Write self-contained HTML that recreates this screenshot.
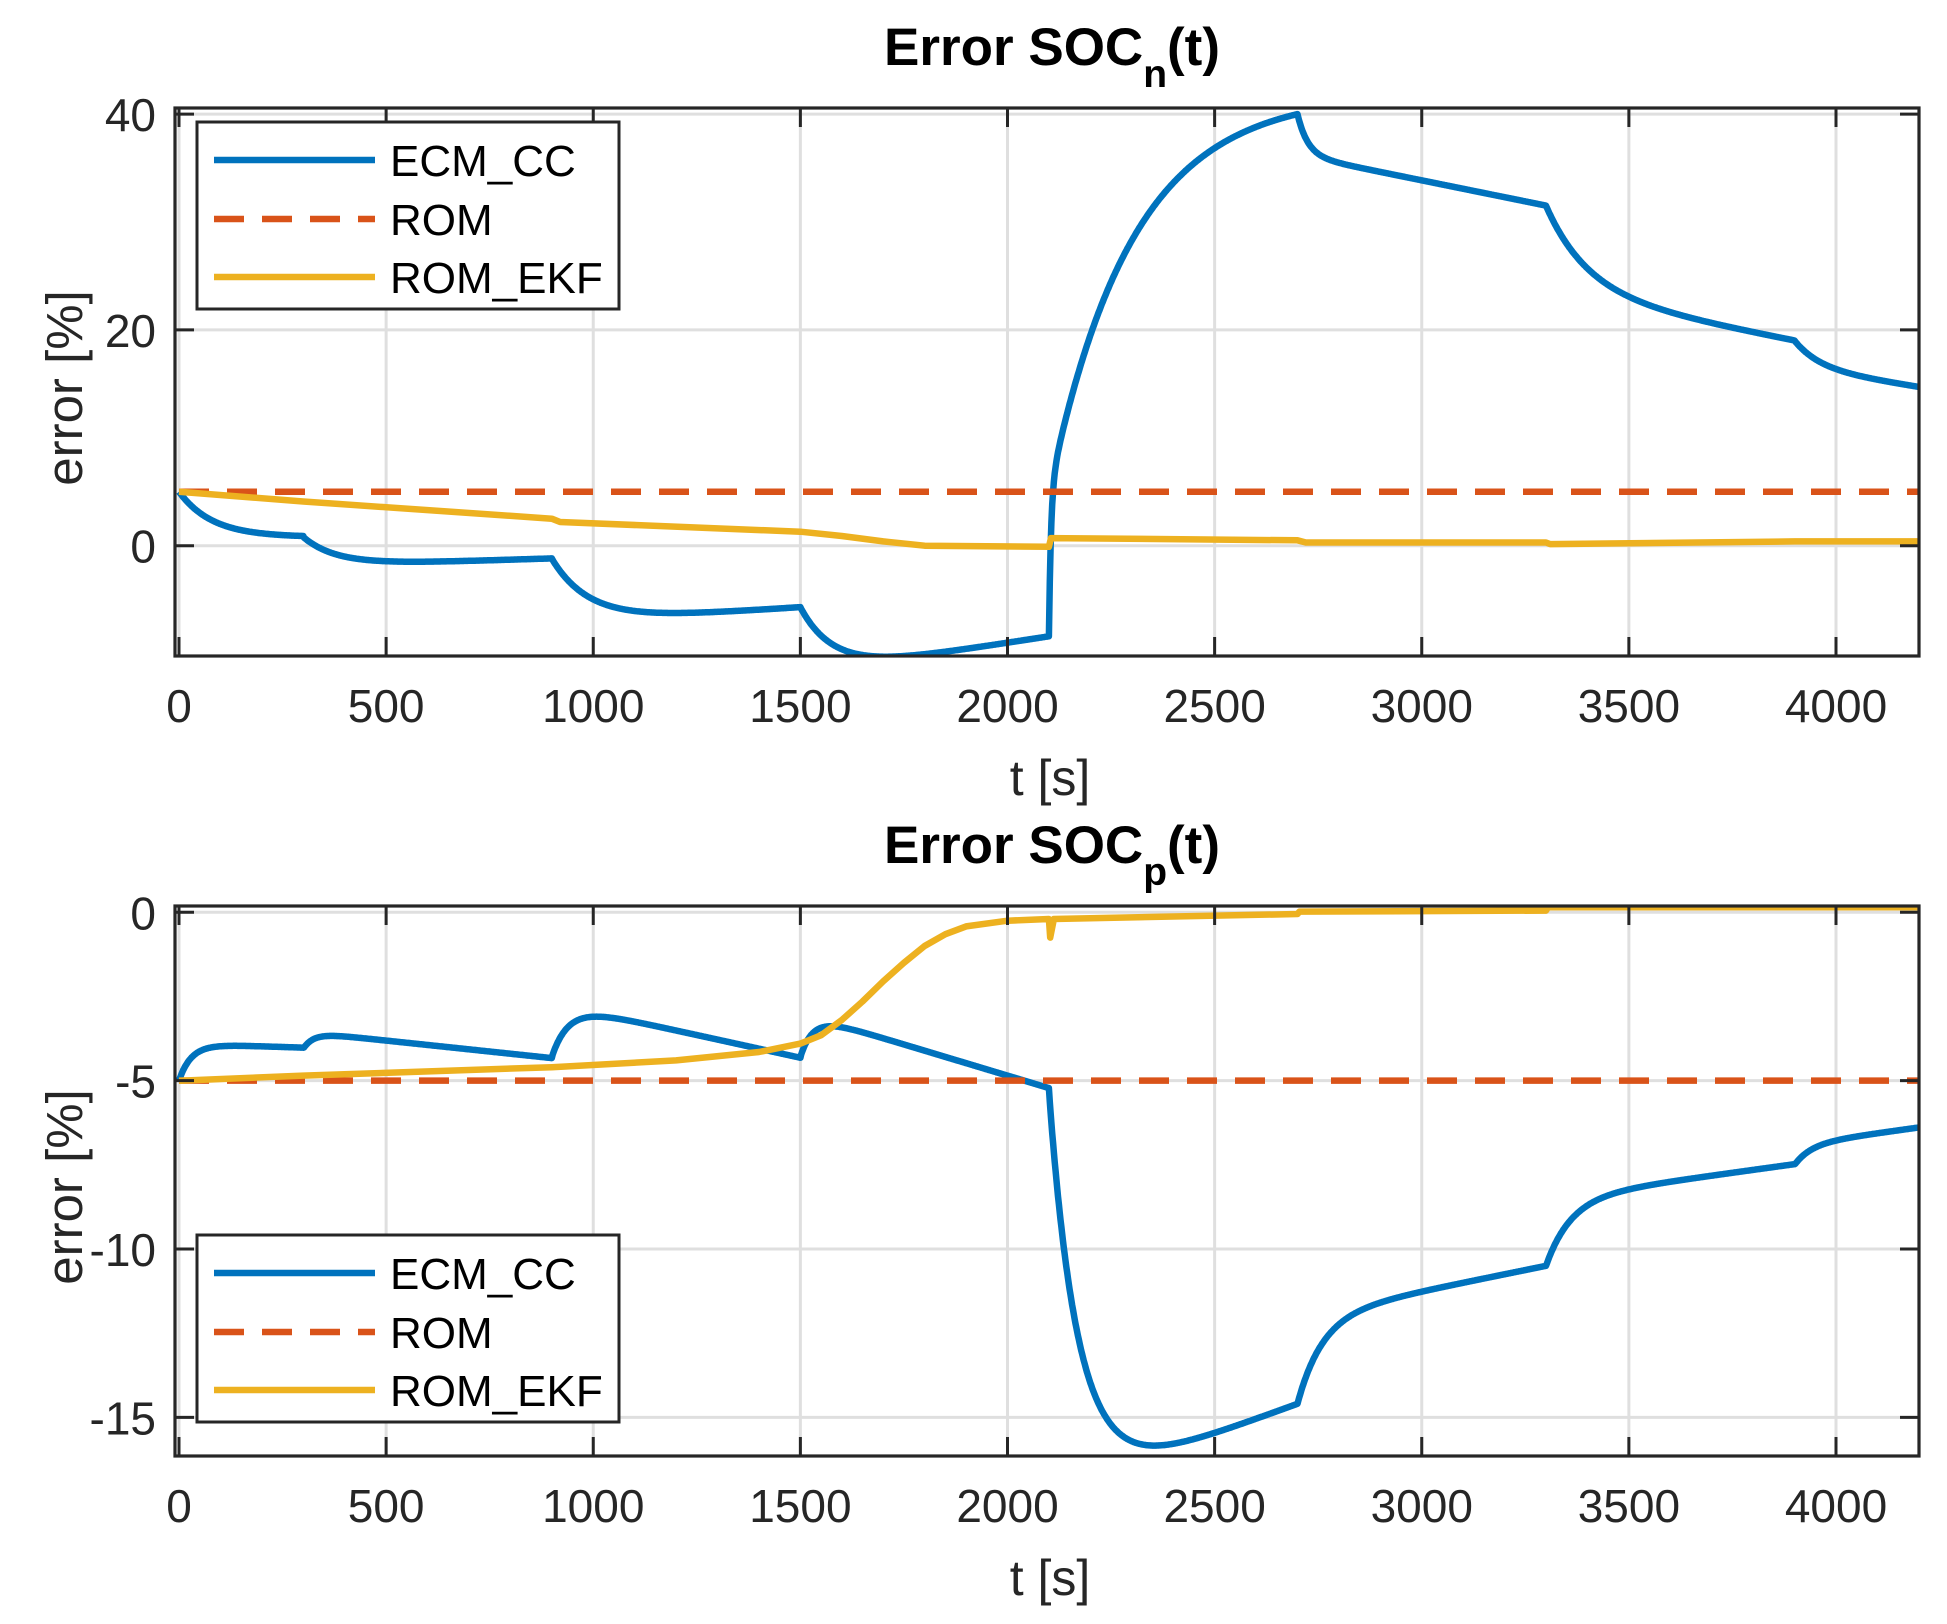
<!DOCTYPE html>
<html><head><meta charset="utf-8"><style>
html,body{margin:0;padding:0;background:#fff;}
svg{display:block;font-family:"Liberation Sans",Arial,sans-serif;}
</style></head><body>
<svg id="s" width="1947" height="1624" viewBox="0 0 1947 1624" xmlns="http://www.w3.org/2000/svg">
<rect width="1947" height="1624" fill="#fff"/>
<g id="g"></g>
<text x="1052" y="65" font-size="53" font-weight="bold" text-anchor="middle" fill="#000">Error SOC<tspan font-size="39" dy="22">n</tspan><tspan dy="-22">(t)</tspan></text>
<text x="1052" y="863" font-size="53" font-weight="bold" text-anchor="middle" fill="#000">Error SOC<tspan font-size="39" dy="22">p</tspan><tspan dy="-22">(t)</tspan></text>
<text x="1050" y="795" font-size="50" text-anchor="middle" fill="#262626">t [s]</text>
<text x="1050" y="1595" font-size="50" text-anchor="middle" fill="#262626">t [s]</text>
<text transform="translate(82,388) rotate(-90)" font-size="51" text-anchor="middle" fill="#262626">error [%]</text>
<text transform="translate(82,1187) rotate(-90)" font-size="51" text-anchor="middle" fill="#262626">error [%]</text>
</svg>
<script>
const NS="http://www.w3.org/2000/svg";
const g=document.getElementById('g');
function el(t,a,txt){const e=document.createElementNS(NS,t);for(const k in a)e.setAttribute(k,a[k]);if(txt!==undefined)e.textContent=txt;g.appendChild(e);return e;}
const L=175,R=1919;
const X=t=>179+t*0.41425;
const E=Math.exp;
function axes(top,bot,Y,yt){
  for(let t=0;t<=4000;t+=500) el('line',{x1:X(t),x2:X(t),y1:top,y2:bot,stroke:'#dfdfdf','stroke-width':3});
  yt.forEach(v=>el('line',{x1:L,x2:R,y1:Y(v),y2:Y(v),stroke:'#dfdfdf','stroke-width':3}));
}
function frame(top,bot,Y,yt,lab){
  for(let t=0;t<=4000;t+=500){
    el('line',{x1:X(t),x2:X(t),y1:bot,y2:bot-19,stroke:'#262626','stroke-width':3});
    el('line',{x1:X(t),x2:X(t),y1:top,y2:top+19,stroke:'#262626','stroke-width':3});
    el('text',{x:X(t),y:bot+66,'font-size':46,'text-anchor':'middle',fill:'#262626'},String(t));
  }
  yt.forEach((v,i)=>{
    el('line',{x1:L,x2:L+19,y1:Y(v),y2:Y(v),stroke:'#262626','stroke-width':3});
    el('line',{x1:R,x2:R-19,y1:Y(v),y2:Y(v),stroke:'#262626','stroke-width':3});
    el('text',{x:156,y:Y(v)+17,'font-size':46,'text-anchor':'end',fill:'#262626'},lab[i]);
  });
  el('rect',{x:L,y:top,width:R-L,height:bot-top,fill:'none',stroke:'#262626','stroke-width':3.2});
}
function path(f,Y,a,b,col,step){
  let d='';
  for(let t=a;t<=b+1e-9;t+=step){d+=(d?'L':'M')+X(t).toFixed(1)+','+Y(f(t)).toFixed(1);}
  return d;
}
function pts(arr,Y){return arr.map((p,i)=>(i?'L':'M')+X(p[0]).toFixed(1)+','+Y(p[1]).toFixed(1)).join('');}
const Yt=v=>545.7-v*10.79;
const Yb=v=>912.3-v*33.67;
axes(108,656,Yt,[40,20,0]);
axes(906,1456,Yb,[0,-5,-10,-15]);
function ecmT(t){
  if(t<=300)return 5-4.2*(1-E(-t/80));
  if(t<=900){const s=t-300;return 0.8-2.7*(1-E(-s/80))+0.0012*s;}
  if(t<=1500){const s=t-900;return -1.2-6*(1-E(-s/90))+0.0025*s;}
  if(t<=2100){const s=t-1500;return -5.7-6.3*(1-E(-s/80))+0.006*s;}
  if(t<=2700){const s=t-2100;return -8+13*(1-E(-s/5))+35*(1-E(-s/200))/(1-E(-3));}
  if(t<=3300){const s=t-2700;return 40-3.8*(1-E(-s/25))-0.0078*s;}
  if(t<=3900){const s=t-3300;return 31.5-8*(1-E(-s/100))-0.0075*s;}
  const s=t-3900;return 19-2.5*(1-E(-s/60))-0.006*s;
}
function ecmB(t){
  if(t<=300)return -5+1.1*(1-E(-t/30))-0.0004*t;
  if(t<=900){const s=t-300;return -4.05+0.5*(1-E(-s/25))-0.0013*s;}
  if(t<=1500){const s=t-900;return -4.3+1.6*(1-E(-s/40))-0.0027*s;}
  if(t<=2100){const s=t-1500;return -4.3+1.3*(1-E(-s/30))-0.0037*s;}
  if(t<=2700){const s=t-2100;return -5.3-12*(1-E(-s/70))+0.0045*s;}
  if(t<=3300){const s=t-2700;return -14.6+2.6*(1-E(-s/60))+0.0025*s;}
  if(t<=3900){const s=t-3300;return -10.5+2*(1-E(-s/60))+0.0017*s;}
  const s=t-3900;return -7.5+0.6*(1-E(-s/40))+0.0017*s;
}
const clipT=el('clipPath',{id:'ct'});
const cr=document.createElementNS(NS,'rect');cr.setAttribute('x',L);cr.setAttribute('y',108);cr.setAttribute('width',R-L);cr.setAttribute('height',548);clipT.appendChild(cr);
const clipB=el('clipPath',{id:'cb'});
const cr2=document.createElementNS(NS,'rect');cr2.setAttribute('x',L);cr2.setAttribute('y',906);cr2.setAttribute('width',R-L);cr2.setAttribute('height',550);clipB.appendChild(cr2);
const LW=6.5;
el('path',{d:path(ecmT,Yt,0,4200,0,2),fill:'none',stroke:'#0072BD','stroke-width':LW,'stroke-linejoin':'round','clip-path':'url(#ct)'});
el('line',{x1:X(0),x2:R,y1:Yt(5),y2:Yt(5),stroke:'#D95319','stroke-width':LW,'stroke-dasharray':'30 18'});
el('path',{d:pts([[0,5],[300,4.1],[900,2.5],[920,2.2],[1500,1.3],[1600,0.9],[1700,0.4],[1800,0],[2100,-0.1],[2105,0.7],[2700,0.5],[2720,0.3],[3300,0.3],[3310,0.15],[3900,0.4],[4200,0.4]],Yt),fill:'none',stroke:'#EDB120','stroke-width':LW,'stroke-linejoin':'round'});
el('path',{d:path(ecmB,Yb,0,4200,0,2),fill:'none',stroke:'#0072BD','stroke-width':LW,'stroke-linejoin':'round','clip-path':'url(#cb)'});
el('line',{x1:X(0),x2:R,y1:Yb(-5),y2:Yb(-5),stroke:'#D95319','stroke-width':LW,'stroke-dasharray':'30 18'});
el('path',{d:pts([[0,-5],[300,-4.85],[900,-4.6],[1200,-4.4],[1400,-4.15],[1500,-3.9],[1550,-3.65],[1600,-3.2],[1650,-2.65],[1700,-2.05],[1750,-1.5],[1800,-1.0],[1850,-0.65],[1900,-0.42],[2000,-0.25],[2100,-0.2],[2103,-0.75],[2112,-0.2],[2700,-0.05],[2705,0.02],[3300,0.05],[3305,0.15],[4200,0.15]],Yb),fill:'none',stroke:'#EDB120','stroke-width':LW,'stroke-linejoin':'round','clip-path':'url(#cb)'});
frame(108,656,Yt,[40,20,0],['40','20','0']);
frame(906,1456,Yb,[0,-5,-10,-15],['0','-5','-10','-15']);
function legend(x,y){
  el('rect',{x:x,y:y,width:422,height:187,fill:'#fff',stroke:'#262626','stroke-width':3});
  const rows=[[38,'#0072BD','ECM_CC',null],[97,'#D95319','ROM','30 18'],[155,'#EDB120','ROM_EKF',null]];
  rows.forEach(r=>{
    const a={x1:x+17,x2:x+178,y1:y+r[0],y2:y+r[0],stroke:r[1],'stroke-width':LW};
    if(r[3])a['stroke-dasharray']=r[3];
    el('line',a);
    el('text',{x:x+193,y:y+r[0]+16,'font-size':44,fill:'#000'},r[2]);
  });
}
legend(197,122);
legend(197,1235);
</script>
</body></html>
